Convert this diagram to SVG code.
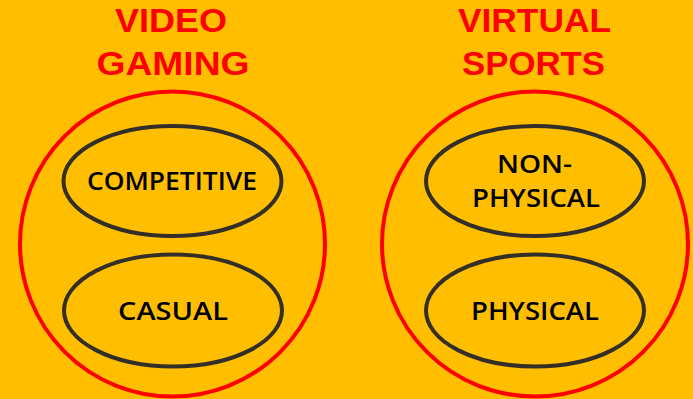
<svg xmlns="http://www.w3.org/2000/svg" width="693" height="399" viewBox="0 0 693 399">
<style>
.title{font-family:"Liberation Sans","Open Sans",sans-serif;font-weight:700;font-size:33px;fill:#FF0000;text-anchor:middle}
.outer{fill:none;stroke:#FF0000;stroke-width:4}
.inner{fill:none;stroke:#332F28;stroke-width:4}
.lbl{font-family:"Open Sans","Liberation Sans",sans-serif;font-weight:600;font-size:26px;fill:#000;text-anchor:middle}
</style>
<rect width="693" height="399" fill="#FFBF00"/>
<g id="video-gaming">
<text class="title" x="171" y="32" textLength="112" lengthAdjust="spacingAndGlyphs">VIDEO</text>
<text class="title" x="173" y="75" textLength="153" lengthAdjust="spacingAndGlyphs">GAMING</text>
<ellipse class="outer" cx="172.5" cy="244" rx="152.5" ry="152.5"/>
</g>
<g id="competitive">
<ellipse class="inner" cx="172.5" cy="181" rx="109" ry="55"/>
<text class="lbl" x="172" y="190" textLength="170" lengthAdjust="spacingAndGlyphs">COMPETITIVE</text>
</g>
<g id="casual">
<ellipse class="inner" cx="173" cy="310.5" rx="109" ry="56"/>
<text class="lbl" x="173" y="320" textLength="110" lengthAdjust="spacingAndGlyphs">CASUAL</text>
</g>
<g id="virtual-sports">
<text class="title" x="534.5" y="32" textLength="153" lengthAdjust="spacingAndGlyphs">VIRTUAL</text>
<text class="title" x="533.5" y="75" textLength="143" lengthAdjust="spacingAndGlyphs">SPORTS</text>
<ellipse class="outer" cx="535" cy="244" rx="153" ry="152.5"/>
</g>
<g id="non-physical">
<ellipse class="inner" cx="535" cy="181" rx="109" ry="55"/>
<text class="lbl" x="534.5" y="173" textLength="75" lengthAdjust="spacingAndGlyphs">NON-</text>
<text class="lbl" x="536" y="207" textLength="128" lengthAdjust="spacingAndGlyphs">PHYSICAL</text>
</g>
<g id="physical">
<ellipse class="inner" cx="535" cy="310.5" rx="109" ry="56"/>
<text class="lbl" x="535" y="320" textLength="128" lengthAdjust="spacingAndGlyphs">PHYSICAL</text>
</g>
<g id="connectors"></g>
</svg>
